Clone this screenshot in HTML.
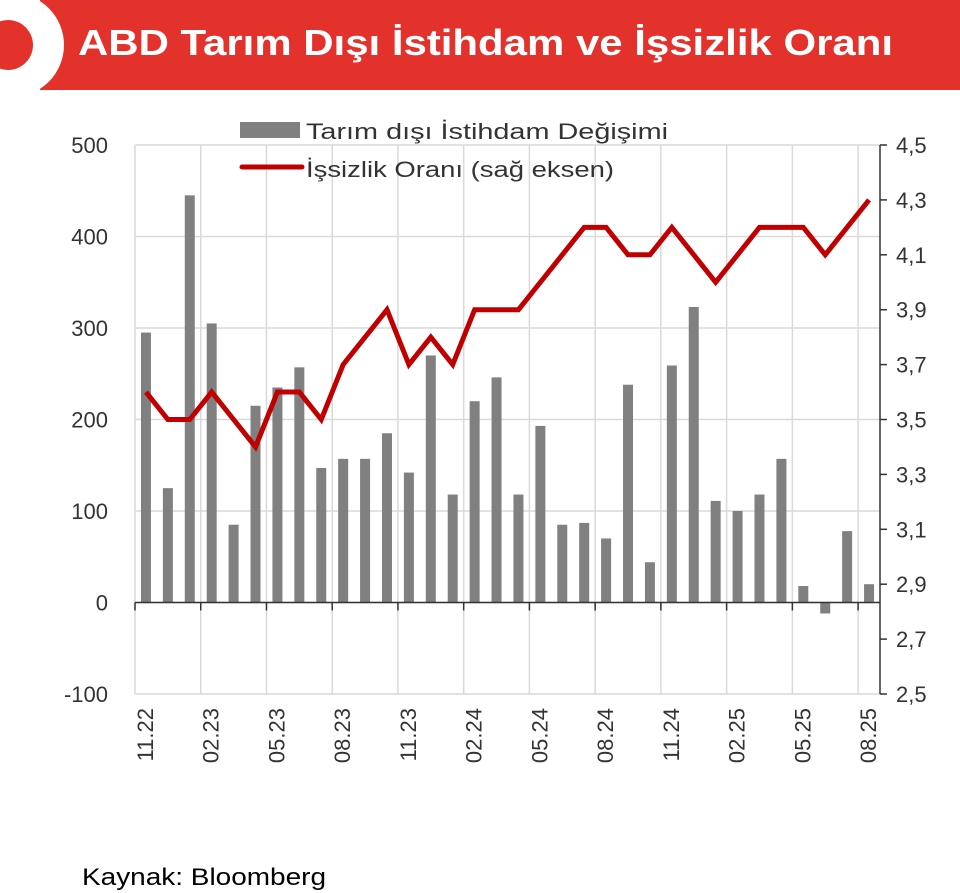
<!DOCTYPE html>
<html><head><meta charset="utf-8"><style>
body{margin:0;background:#fff;font-family:"Liberation Sans",sans-serif}
#wrap{position:relative;width:960px;height:893px;overflow:hidden}
</style></head><body>
<div id="wrap">
<svg id="c" width="960" height="893">
<rect x="40" y="0" width="920" height="90" fill="#e3312b"/>
<circle cx="12" cy="45" r="52" fill="#fff"/>
<circle cx="8" cy="45" r="25" fill="#e3312b"/>
<text x="78" y="55" font-size="36" font-weight="bold" fill="#fff" textLength="815" lengthAdjust="spacingAndGlyphs">ABD Tarım Dışı İstihdam ve İşsizlik Oranı</text>
<g id="grid"></g><g id="bars"></g><g id="line"></g><g id="axes"></g>
<g>
<rect x="240" y="122" width="60" height="16" fill="#808080"/>
<text x="306" y="139" font-size="22" fill="#333" textLength="362" lengthAdjust="spacingAndGlyphs">Tarım dışı İstihdam Değişimi</text>
<line x1="242" y1="167" x2="302" y2="167" stroke="#c00000" stroke-width="5" stroke-linecap="round"/>
<text x="306" y="177" font-size="22" fill="#333" textLength="308" lengthAdjust="spacingAndGlyphs">İşsizlik Oranı (sağ eksen)</text>
</g>
<text x="82" y="885" font-size="24" fill="#000" textLength="244" lengthAdjust="spacingAndGlyphs">Kaynak: Bloomberg</text>
</svg>
</div>
<script>
const categories=["11.22","12.22","01.23","02.23","03.23","04.23","05.23","06.23","07.23","08.23","09.23","10.23","11.23","12.23","01.24","02.24","03.24","04.24","05.24","06.24","07.24","08.24","09.24","10.24","11.24","12.24","01.25","02.25","03.25","04.25","05.25","06.25","07.25","08.25"];
const payrolls=[295,125,445,305,85,215,235,257,147,157,157,185,142,270,118,220,246,118,193,85,87,70,238,44,259,323,111,100,118,157,18,-12,78,20];
const unemployment=[3.6,3.5,3.5,3.6,3.5,3.4,3.6,3.6,3.5,3.7,3.8,3.9,3.7,3.8,3.7,3.9,3.9,3.9,4.0,4.1,4.2,4.2,4.1,4.1,4.2,4.1,4.0,4.1,4.2,4.2,4.2,4.1,4.2,4.3];
const leftTicks=[500,400,300,200,100,0,-100];
const rightTicks=["4,5","4,3","4,1","3,9","3,7","3,5","3,3","3,1","2,9","2,7","2,5"];
const L=135,R=880,T=145,B=694;
const bw=(R-L)/categories.length;
const yL=v=>T+(500-v)*(B-T)/600;
const yR=v=>T+(4.5-v)*(B-T)/2.0;
const xC=i=>L+bw*(i+0.5);
const NS="http://www.w3.org/2000/svg";
function mk(p,t,a){const e=document.createElementNS(NS,t);for(const k in a)e.setAttribute(k,a[k]);p.appendChild(e);return e;}
const grid=document.getElementById('grid'),bars=document.getElementById('bars'),line=document.getElementById('line'),axes=document.getElementById('axes');
leftTicks.forEach((v,i)=>{
 const g=mk(grid,'line',{x1:L,x2:R,y1:yL(v),y2:yL(v),stroke:'#d9d9d9','stroke-width':1.5});
 
 
 const t=mk(axes,'text',{x:108,y:yL(v)+8,'font-size':22,fill:'#333','text-anchor':'end'});
 
 
 t.textContent=v;
});
rightTicks.forEach((s,i)=>{
 const v=parseFloat(s.replace(',','.'));
 const t=mk(axes,'text',{x:896,y:yR(v)+8,'font-size':22,fill:'#333'});
 
 
 t.textContent=s;
 const tk=mk(axes,'line',{x1:R,x2:R+7,y1:yR(v),y2:yR(v),stroke:'#333','stroke-width':1.5});
 
 
});
for(let i=0;i<=categories.length;i+=3){
 const x=L+bw*i;
 const g=mk(grid,'line',{x1:x,x2:x,y1:T,y2:B,stroke:'#d9d9d9','stroke-width':1.5});
 
 
 const tk=mk(axes,'line',{x1:x,x2:x,y1:yL(0),y2:yL(0)+8,stroke:'#333','stroke-width':1.5});
 
 
}
categories.forEach((c,i)=>{
 const v=payrolls[i];
 const r=mk(bars,'rect',{x:xC(i)-5,y:Math.min(yL(v),yL(0)),width:10,height:Math.abs(yL(v)-yL(0)),fill:'#808080'});
 
 
 if(i%3===0){
  const t=mk(axes,'text',{x:0,y:0,'font-size':22,fill:'#333','text-anchor':'end',transform:`translate(${xC(i)+7},708) rotate(-90)`});
  
  
  t.textContent=c;
 }
});
const ax=mk(axes,'line',{x1:L,x2:R,y1:yL(0),y2:yL(0),stroke:'#333','stroke-width':1.5});


const ra=mk(axes,'line',{x1:R,x2:R,y1:T,y2:B,stroke:'#333','stroke-width':1.5});


const pl=mk(line,'polyline',{points:unemployment.map((v,i)=>xC(i)+','+yR(v)).join(' '),fill:'none',stroke:'#c00000','stroke-width':5,'stroke-linejoin':'miter'});


</script>
</body></html>
